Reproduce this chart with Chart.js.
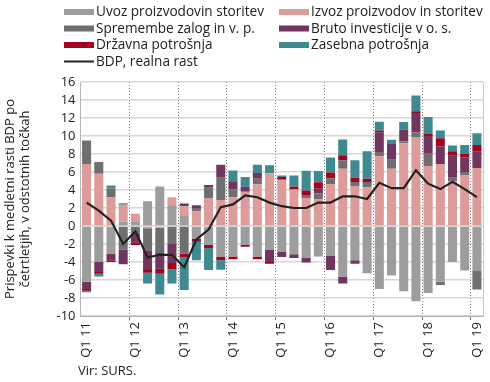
<!DOCTYPE html>
<html>
<head>
<meta charset="utf-8">
<script src="https://cdn.jsdelivr.net/npm/chart.js@4/dist/chart.umd.min.js"></script>
<style>
  html, body { margin: 0; padding: 0; background: #fff; }
  #wrap { position: relative; width: 490px; height: 382px; font-family: "Open Sans", sans-serif; color: #222; }
  #c { position: absolute; left: 0; top: 0; }
  #src { position: absolute; left: 78px; top: 361px; font-size: 13px; }
</style>
</head>
<body>
<div id="wrap">
  <canvas id="c" width="490" height="382"></canvas>
  <div id="src">Vir: SURS.</div>
</div>
<script>
const quarters = ["Q1 11","Q2 11","Q3 11","Q4 11","Q1 12","Q2 12","Q3 12","Q4 12",
  "Q1 13","Q2 13","Q3 13","Q4 13","Q1 14","Q2 14","Q3 14","Q4 14",
  "Q1 15","Q2 15","Q3 15","Q4 15","Q1 16","Q2 16","Q3 16","Q4 16",
  "Q1 17","Q2 17","Q3 17","Q4 17","Q1 18","Q2 18","Q3 18","Q4 18","Q1 19"];

const uvoz = [-6.2,-4.0,-3.05,0.5,0.45,2.75,4.4,2.3,1.1,-1.45,-2.1,-3.45,-3.4,-2.1,-3.4,-2.6,-2.9,-3.15,-3.5,-3.4,-3.33,-5.6,-3.8,-5.25,-7.0,-5.5,-7.25,-8.35,-7.45,-6.2,-4.0,-4.95,-5.0];
const izvoz = [6.9,5.8,3.2,1.85,0.9,-0.25,-0.2,0.9,1.1,1.63,3.1,2.9,3.2,3.8,4.65,5.85,5.15,4.05,3.1,3.0,4.6,6.35,4.4,4.3,7.74,6.37,9.2,9.9,6.67,6.9,4.95,5.6,6.45];
const zaloge = [2.6,1.3,1.0,-2.6,-0.8,-2.45,-2.8,-2.0,-3.05,0.3,1.15,2.45,0.87,0,0.6,0,0,0,0.35,0.6,0.7,0.95,0.5,0.6,0.48,1.0,0.2,0.5,1.44,-0.35,0.4,0.4,-2.05];
const investicije = [-0.8,-1.1,-0.75,-1.65,-1.0,-2.2,-1.75,-2.1,0.3,0.37,0.3,1.45,0.9,0.55,0.65,-1.4,-0.55,-0.4,-0.55,0.55,-1.55,-0.8,-0.4,0,2.2,1.75,1.3,2.15,1.9,1.95,2.45,1.65,1.8];
const drzavna = [-0.2,-0.2,-0.2,0,-0.3,-0.3,-0.55,-0.7,-0.45,-0.3,-0.35,-0.36,-0.3,-0.2,-0.3,-0.2,0.3,0.3,0.5,0.7,0.65,0.55,0.45,0.35,0.2,0,0,0.2,0.26,0.9,0.5,0.35,0.75];
const zasebna = [-0.15,-0.3,0.3,0.18,0,-1.2,-2.3,-1.6,-3.6,-2.05,-2.45,-1.05,1.2,1.1,0.9,0.9,0.15,1.25,2.2,1.25,1.65,1.75,1.95,3.05,0.95,0.45,0.85,1.75,1.85,0.85,0.65,1.0,1.3];
const bdp = [2.6,1.7,0.6,-2.0,-0.6,-3.5,-3.2,-3.2,-4.6,-1.5,-0.4,2.1,2.4,3.4,3.2,2.6,2.2,2.0,2.0,2.6,2.6,3.3,3.3,3.0,4.8,4.2,4.2,6.2,4.7,4.1,4.9,4.1,3.2];

const yTicks = [-10,-8,-6,-4,-2,0,2,4,6,8,10,12,14,16];
const yTitle = ["Prispevki k medletni rasti BDP po", "četrtletjih, v odstotnih točkah"];

const series = [
  { label: "Uvoz proizvodovin storitev", data: uvoz, color: "#9d9d9d" },
  { label: "Izvoz proizvodov in storitev", data: izvoz, color: "#dd9b99" },
  { label: "Spremembe zalog in v. p.", data: zaloge, color: "#6f6f6f" },
  { label: "Bruto investicije v o. s.", data: investicije, color: "#70365f" },
  { label: "Državna potrošnja", data: drzavna, color: "#a2041f" },
  { label: "Zasebna potrošnja", data: zasebna, color: "#3e8a90" }
];
const lineLabel = "BDP, realna rast";

const datasets = series.map(s => ({
  type: 'bar', label: s.label, data: s.data, backgroundColor: s.color,
  borderWidth: 0, barPercentage: 0.74, categoryPercentage: 1, order: 2
}));
datasets.push({
  type: 'line', label: lineLabel, data: bdp, borderColor: '#222', borderWidth: 2.2,
  pointRadius: 0, tension: 0, fill: false, order: 1
});

// legend drawn on the canvas (two columns + line row)
const legendPos = [[64, 12], [279, 12], [64, 28.5], [279, 28.5], [64, 45], [279, 45]];
const legendPlugin = {
  id: 'customLegend',
  afterDraw(chart) {
    const ctx = chart.ctx;
    ctx.save();
    ctx.font = '13.6px "Open Sans"';
    ctx.textBaseline = 'middle';
    ctx.textAlign = 'left';
    series.forEach((s, i) => {
      const [x, y] = legendPos[i];
      ctx.fillStyle = s.color;
      ctx.fillRect(x, y - 3, 30, 6);
      ctx.fillStyle = '#222';
      ctx.fillText(s.label, x + 32, y + 0.5);
    });
    ctx.strokeStyle = '#222'; ctx.lineWidth = 2;
    ctx.beginPath(); ctx.moveTo(64, 61.5); ctx.lineTo(94, 61.5); ctx.stroke();
    ctx.fillStyle = '#222';
    ctx.fillText(lineLabel, 96, 62);
    // right frame of plot area
    const a = chart.chartArea;
    ctx.strokeStyle = '#c8c8c8'; ctx.lineWidth = 1;
    ctx.beginPath(); ctx.moveTo(a.right + 0.5, a.top); ctx.lineTo(a.right + 0.5, a.bottom); ctx.stroke();
    ctx.restore();
  }
};

new Chart(document.getElementById('c'), {
  type: 'bar',
  data: { labels: quarters, datasets },
  options: {
    responsive: false, animation: false, devicePixelRatio: 1,
    layout: { padding: { top: 82, right: 7, left: 2, bottom: 0 } },
    plugins: { legend: { display: false }, tooltip: { enabled: false } },
    scales: {
      x: {
        stacked: true,
        afterFit: s => { s.height = 66; s.paddingLeft = 0; s.paddingRight = 0; },
        grid: {
          offset: true, drawTicks: true, tickLength: 4,
          color: ctx => (ctx.index % 4 === 0 && ctx.index > 0 && ctx.index < quarters.length) ? '#7a7a7a' : 'rgba(0,0,0,0)',
          lineWidth: 1
        },
        border: { display: true, color: '#b5b5b5', width: 1, dash: [1, 2] },
        ticks: {
          autoSkip: false, minRotation: 90, maxRotation: 90, padding: 2,
          color: '#222', font: { family: 'Open Sans', size: 13 },
          callback: function(v, i) { return quarters[i].startsWith('Q1') ? quarters[i] : ''; }
        }
      },
      y: {
        stacked: true, min: yTicks[0], max: yTicks[yTicks.length - 1],
        afterFit: s => { s.width = 78.5; },
        afterBuildTicks: s => { s.ticks = yTicks.map(v => ({ value: v })); },
        grid: { color: '#d6d6d6', lineWidth: 1.5, drawTicks: false },
        border: { display: true, color: '#b5b5b5', width: 1 },
        ticks: { autoSkip: false, color: '#222', padding: 5, font: { family: 'Open Sans', size: 13 } },
        title: {
          display: true, text: yTitle, color: '#222', padding: { top: 0, bottom: 2 },
          font: { family: 'Open Sans', size: 13, lineHeight: 1.2 }
        }
      }
    }
  },
  plugins: [legendPlugin]
});
</script>
</body>
</html>
